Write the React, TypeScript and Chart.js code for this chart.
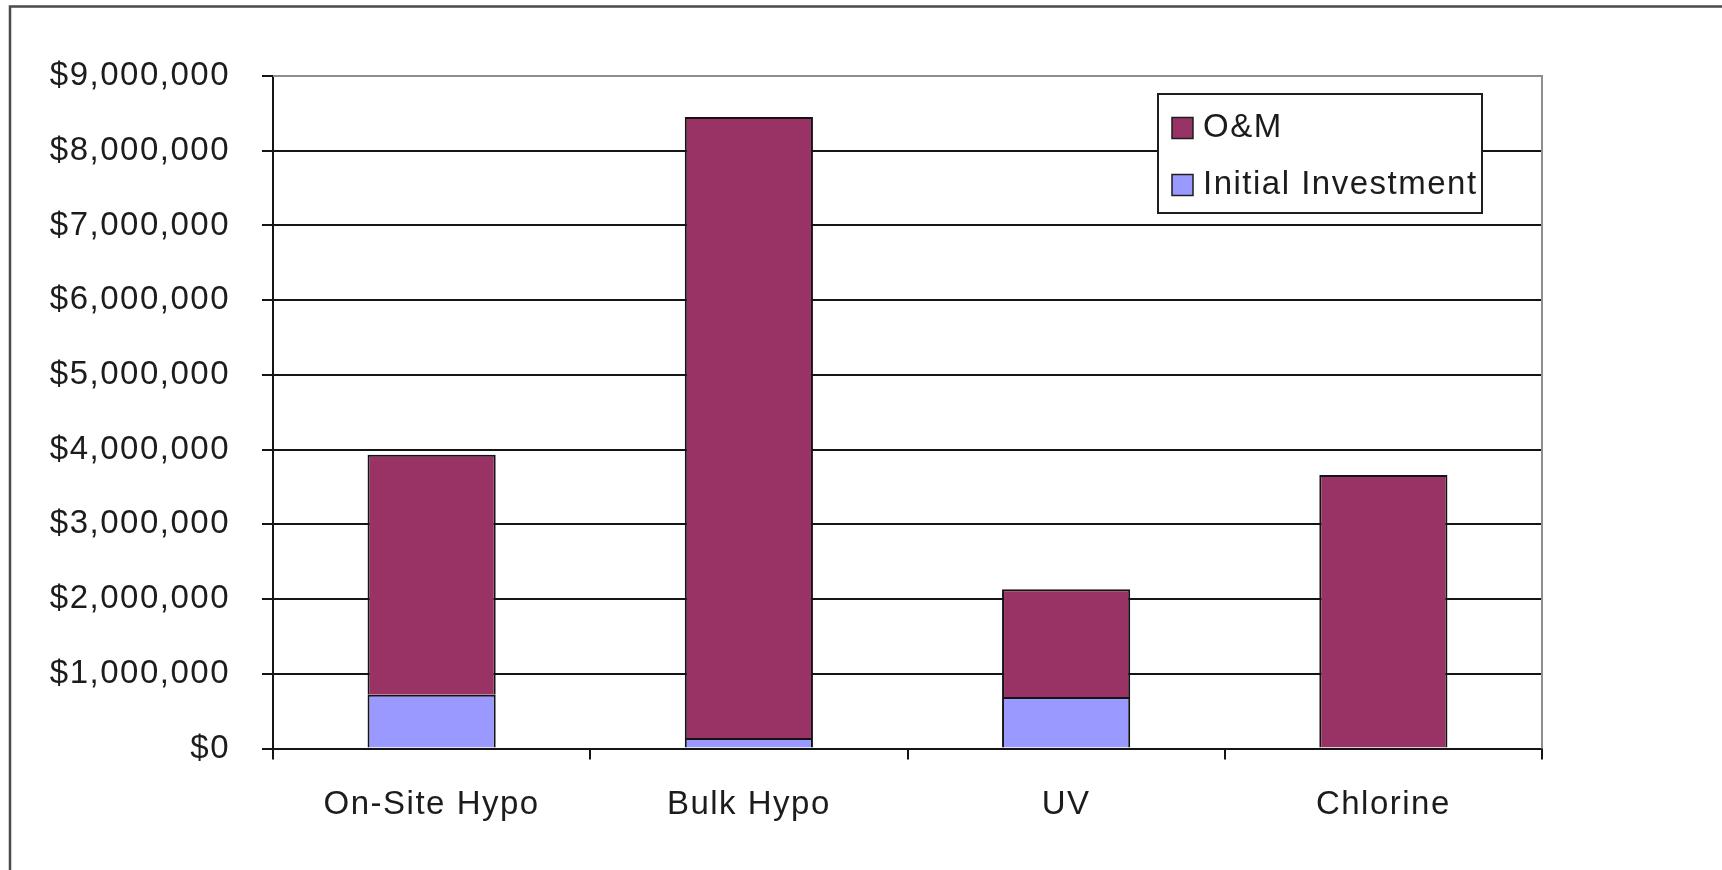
import React, { useEffect, useRef } from 'react';
import { Chart, registerables } from 'chart.js';

Chart.register(...registerables);

// ---- data ----
const categories = ['On-Site Hypo', 'Bulk Hypo', 'UV', 'Chlorine'];
const initialInvestment = [720000, 140000, 690000, 0];
const oAndM = [3210000, 8310000, 1440000, 3660000];
const seriesLabels = ['Initial Investment', 'O&M'];
const seriesColors = ['#9999FF', '#993366'];
const yMin = 0;
const yMax = 9000000;
const yStep = 1000000;

const FONT = '"Liberation Sans", Arial, sans-serif';
const TEXT = '#1c1c1c';
const GRID = '#151515';

const fmt = (v: number) => '$' + Math.round(v).toLocaleString('en-US');

const spacingPlugin = {
  id: 'spacing',
  beforeUpdate(c: any) { c.ctx.letterSpacing = '1.5px'; },
  beforeLayout(c: any) { c.ctx.letterSpacing = '1.5px'; },
  beforeDraw(c: any) { c.ctx.letterSpacing = '1.5px'; },
};

const framePlugin = {
  id: 'frame',
  beforeDraw(c: any) {
    const ctx = c.ctx;
    ctx.save();
    ctx.strokeStyle = '#4a4a4a';
    ctx.lineWidth = 2.5;
    ctx.strokeRect(10, 6.5, 3000, 3000);
    ctx.restore();
  },
  afterDraw(c: any) {
    const ctx = c.ctx;
    const a = c.chartArea;
    ctx.save();
    // plot-area border (top and right, grey)
    ctx.strokeStyle = '#8e8e8e';
    ctx.lineWidth = 2;
    ctx.beginPath();
    ctx.moveTo(a.left, a.top);
    ctx.lineTo(a.right, a.top);
    ctx.lineTo(a.right, a.bottom);
    ctx.stroke();
    ctx.restore();

    // legend
    const bx = 1158, by = 94, bw = 324, bh = 119;
    ctx.save();
    ctx.fillStyle = '#ffffff';
    ctx.fillRect(bx, by, bw, bh);
    ctx.strokeStyle = '#1e1e1e';
    ctx.lineWidth = 2;
    ctx.strokeRect(bx, by, bw, bh);
    ctx.font = '33px ' + FONT;
    ctx.letterSpacing = '1.5px';
    ctx.textBaseline = 'middle';
    ctx.textAlign = 'left';
    const ds = c.data.datasets;
    const order = [1, 0];
    const rowsY = [128, 185];
    order.forEach((di, r) => {
      const d = ds[di];
      const cy = rowsY[r];
      ctx.fillStyle = d.backgroundColor;
      ctx.fillRect(1172, cy - 10.5, 21, 21);
      ctx.strokeStyle = '#1e1e1e';
      ctx.lineWidth = 1.5;
      ctx.strokeRect(1172, cy - 10.5, 21, 21);
      ctx.fillStyle = TEXT;
      ctx.fillText(d.label, 1203, cy);
    });
    ctx.restore();
  },
};

export default function App() {
  const ref = useRef<HTMLCanvasElement | null>(null);

  useEffect(() => {
    document.body.style.margin = '0';
    document.body.style.overflow = 'hidden';
    const canvas = ref.current;
    if (!canvas) return;
    const chart = new Chart(canvas, {
      type: 'bar',
      data: {
        labels: categories,
        datasets: [
          {
            label: seriesLabels[0],
            data: initialInvestment,
            backgroundColor: seriesColors[0],
            borderColor: '#141414',
            borderWidth: 2,
            barPercentage: 0.404,
            categoryPercentage: 1.0,
          },
          {
            label: seriesLabels[1],
            data: oAndM,
            backgroundColor: seriesColors[1],
            borderColor: '#141414',
            borderWidth: 2,
            barPercentage: 0.404,
            categoryPercentage: 1.0,
          },
        ],
      },
      options: {
        responsive: false,
        animation: false,
        layout: { padding: { top: 76, right: 180, bottom: 0, left: 0 } },
        plugins: {
          legend: { display: false },
          tooltip: { enabled: false },
        },
        scales: {
          x: {
            stacked: true,
            afterFit: (s: any) => { s.height = 121.5; },
            grid: {
              display: true,
              offset: true,
              drawOnChartArea: false,
              drawTicks: true,
              tickLength: 11,
              tickColor: GRID,
              lineWidth: 2,
            },
            border: { display: true, color: GRID, width: 2 },
            ticks: {
              color: TEXT,
              font: { family: FONT, size: 33 },
              padding: 26,
              maxRotation: 0,
            },
          },
          y: {
            stacked: true,
            min: yMin,
            max: yMax,
            afterFit: (s: any) => { s.width = 273; },
            grid: {
              color: (ctx: any) => (ctx.tick && ctx.tick.value === yMax ? '#8e8e8e' : GRID),
              tickColor: GRID,
              lineWidth: 2,
              tickLength: 11,
              drawTicks: true,
            },
            border: { display: true, color: GRID, width: 2 },
            ticks: {
              stepSize: yStep,
              color: TEXT,
              font: { family: FONT, size: 33 },
              padding: 32,
              callback: (v: any) => fmt(Number(v)),
            },
          },
        },
      },
      plugins: [spacingPlugin, framePlugin],
    });
    return () => chart.destroy();
  }, []);

  return (
    <div style={{ position: 'fixed', left: 0, top: 0, width: 1722, height: 870, background: '#fff' }}>
      <canvas ref={ref} width={1722} height={870} style={{ display: 'block', width: 1722, height: 870 }} />
    </div>
  );
}
